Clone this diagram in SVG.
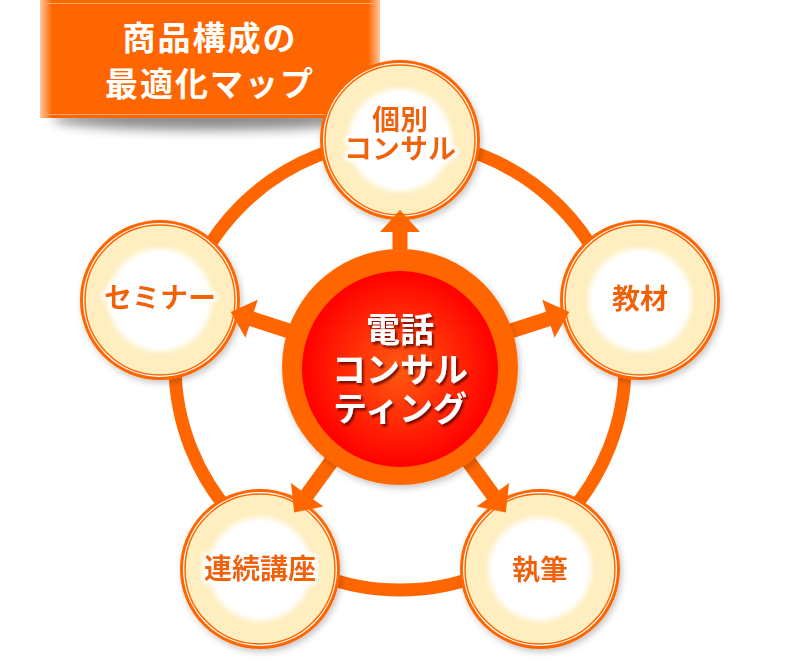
<svg xmlns="http://www.w3.org/2000/svg" width="800" height="660" viewBox="0 0 800 660">
<defs>
<style>
.sat-outer{fill:#FFFFFF;stroke:#FF6600;stroke-width:3}
.sat-inner{fill:url(#cream);stroke:#FF6600;stroke-width:1.5}
.sat-text{font-family:"Noto Sans CJK JP","Noto Sans",sans-serif;font-weight:700;font-size:28px;fill:#F06400;text-anchor:middle}
.ctr-text{font-family:"Noto Sans CJK JP","Noto Sans",sans-serif;font-weight:700;font-size:34px;fill:#FFFFFF;text-anchor:middle}
.ttl-text{font-family:"Noto Sans CJK JP","Noto Sans",sans-serif;font-weight:700;font-size:33px;fill:#FFFFFF;text-anchor:middle;letter-spacing:2px}
.arrow{fill:#FF6600}
</style>
<radialGradient id="cream" cx="50%" cy="50%" r="50%">
<stop offset="0" stop-color="#FFFFFF"/>
<stop offset="0.63" stop-color="#FFFFFF"/>
<stop offset="0.74" stop-color="#FFEEC0"/>
<stop offset="1" stop-color="#FFEEC0"/>
</radialGradient>
<radialGradient id="redg" cx="50%" cy="50%" r="50%">
<stop offset="0" stop-color="#FF5A12"/>
<stop offset="0.55" stop-color="#FF2A06"/>
<stop offset="1" stop-color="#FF0000"/>
</radialGradient>
<linearGradient id="ttlg" x1="0" y1="0" x2="1" y2="0">
<stop offset="0" stop-color="#FFC8A0"/>
<stop offset="0.035" stop-color="#FF6600"/>
<stop offset="0.965" stop-color="#FF6600"/>
<stop offset="1" stop-color="#FFC8A0"/>
</linearGradient>
<filter id="sh" x="-20%" y="-20%" width="150%" height="150%">
<feDropShadow dx="2" dy="3" stdDeviation="3" flood-color="#000" flood-opacity="0.22"/>
</filter>
<filter id="blur6" x="-20%" y="-100%" width="140%" height="300%">
<feGaussianBlur stdDeviation="6"/>
</filter>
<filter id="glow" x="-20%" y="-40%" width="140%" height="180%">
<feMorphology in="SourceAlpha" operator="dilate" radius="2" result="d"/>
<feGaussianBlur in="d" stdDeviation="2.5" result="b"/>
<feFlood flood-color="#FFFFFF"/>
<feComposite in2="b" operator="in" result="w"/>
<feMerge><feMergeNode in="w"/><feMergeNode in="w"/><feMergeNode in="SourceGraphic"/></feMerge>
</filter>
<filter id="tsh" x="-20%" y="-40%" width="140%" height="180%">
<feDropShadow dx="2" dy="2.5" stdDeviation="1.2" flood-color="#4A0000" flood-opacity="0.75"/>
</filter>
</defs>
<rect width="800" height="660" fill="#FFFFFF"/>

<g id="title">
<ellipse cx="210" cy="119" rx="158" ry="11" fill="#000" opacity="0.45" filter="url(#blur6)"/>
<rect x="40" y="0" width="340" height="118" fill="url(#ttlg)"/>
<line x1="44" y1="3.5" x2="376" y2="3.5" stroke="#FFA868" stroke-width="1"/>
<line x1="44" y1="114.5" x2="376" y2="114.5" stroke="#FFA868" stroke-width="1"/>
<text class="ttl-text" x="210" y="50">商品構成の</text>
<text class="ttl-text" x="210" y="96">最適化マップ</text>
</g>

<g id="connectors">
<circle cx="400" cy="365" r="225" fill="none" stroke="#FF6600" stroke-width="13"/>
</g>

<g id="node-kobetsu" filter="url(#sh)">
<circle class="sat-outer" cx="400" cy="140" r="78.5"/>
<circle class="sat-inner" cx="400" cy="140" r="75"/>
</g>
<g id="node-seminar" filter="url(#sh)">
<circle class="sat-outer" cx="160" cy="300" r="78.5"/>
<circle class="sat-inner" cx="160" cy="300" r="75"/>
</g>
<g id="node-kyozai" filter="url(#sh)">
<circle class="sat-outer" cx="640" cy="300" r="78.5"/>
<circle class="sat-inner" cx="640" cy="300" r="75"/>
</g>
<g id="node-renzoku" filter="url(#sh)">
<circle class="sat-outer" cx="260" cy="569" r="78.5"/>
<circle class="sat-inner" cx="260" cy="569" r="75"/>
</g>
<g id="node-shippitsu" filter="url(#sh)">
<circle class="sat-outer" cx="540" cy="569" r="78.5"/>
<circle class="sat-inner" cx="540" cy="569" r="75"/>
</g>

<g id="arrows">
<g transform="translate(400,367) rotate(-90)"><polygon class="arrow" points="0,-7.5 135,-7.5 135,-20 157,0 135,20 135,7.5 0,7.5"/></g>
<g transform="translate(400,367) rotate(-162)"><polygon class="arrow" points="0,-7.5 156,-7.5 156,-20 178,0 156,20 156,7.5 0,7.5"/></g>
<g transform="translate(400,367) rotate(-18)"><polygon class="arrow" points="0,-7.5 156,-7.5 156,-20 178,0 156,20 156,7.5 0,7.5"/></g>
<g transform="translate(400,367) rotate(126)"><polygon class="arrow" points="0,-7.5 158,-7.5 158,-20 180,0 158,20 158,7.5 0,7.5"/></g>
<g transform="translate(400,367) rotate(54)"><polygon class="arrow" points="0,-7.5 158,-7.5 158,-20 180,0 158,20 158,7.5 0,7.5"/></g>
</g>

<g id="node-center">
<circle cx="400" cy="367" r="118" fill="#FF6600" filter="url(#sh)"/>
<circle cx="400" cy="369" r="98" fill="url(#redg)"/>
<g filter="url(#tsh)">
<text class="ctr-text" x="400" y="342">電話</text>
<text class="ctr-text" x="400" y="382">コンサル</text>
<text class="ctr-text" x="400" y="421">ティング</text>
</g>
</g>

<g id="labels" filter="url(#glow)">
<text class="sat-text" x="400" y="130">個別</text>
<text class="sat-text" x="400" y="159">コンサル</text>
<text class="sat-text" x="160" y="308">セミナー</text>
<text class="sat-text" x="640" y="309">教材</text>
<text class="sat-text" x="260" y="579">連続講座</text>
<text class="sat-text" x="540" y="580">執筆</text>
</g>
</svg>
